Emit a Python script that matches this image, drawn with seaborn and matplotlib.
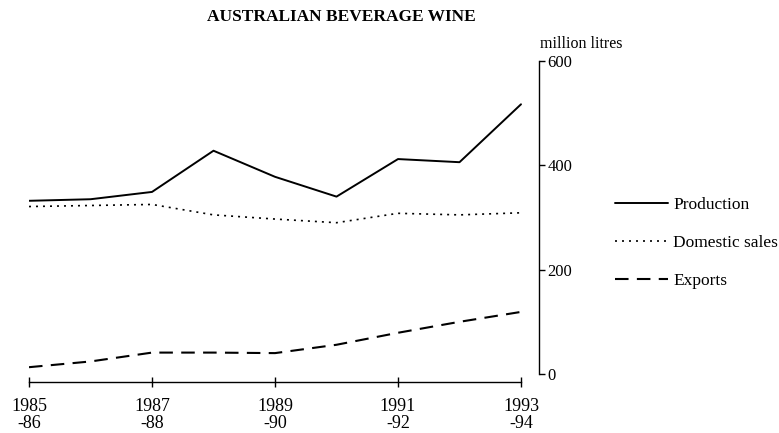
import pandas as pd
import matplotlib
matplotlib.use('Agg')
import matplotlib.pyplot as plt
import seaborn as sns

# data (million litres)
years = [1985, 1986, 1987, 1988, 1989, 1990, 1991, 1992, 1993]
production = [332, 335, 349, 428, 378, 340, 412, 406, 517]
domestic_sales = [321, 323, 325, 305, 297, 290, 308, 305, 309]
exports = [13, 24, 41, 41, 40, 56, 79, 100, 119]
tick_years = [1985, 1987, 1989, 1991, 1993]
tick_labels = ['1985\n-86', '1987\n-88', '1989\n-90', '1991\n-92', '1993\n-94']
y_ticks = [0, 200, 400, 600]

sns.set_style('white', rc={'axes.edgecolor': 'black', 'text.color': 'black',
                           'xtick.color': 'black', 'ytick.color': 'black'})
plt.rcParams['font.family'] = ['Liberation Serif', 'DejaVu Serif']

df = pd.DataFrame({'year': years, 'Production': production,
                   'Domestic sales': domestic_sales, 'Exports': exports})

fig = plt.figure(figsize=(7.79, 4.33), dpi=100)
ax = fig.add_axes([29 / 779, (433 - 381.7) / 433, 510 / 779, (381.7 - 61) / 433])

styles = {'Production': ('-', 1.4),
          'Domestic sales': ((0, (1.2, 3)), 1.2),
          'Exports': ((0, (6.5, 4)), 1.5)}
for name, (ls, lw) in styles.items():
    sns.lineplot(data=df, x='year', y=name, ax=ax, color='black',
                 linestyle=ls, linewidth=lw, label=name)

ax.set_xlim(1985, 1985 + 510 / 61.5)
ax.set_ylim(-14.8, 600)
ax.set_xlabel('')
ax.set_ylabel('')

# axes: right y axis, bottom x axis, both trimmed
ax.spines['left'].set_visible(False)
ax.spines['top'].set_visible(False)
ax.spines['right'].set_bounds(0, 600)
ax.spines['bottom'].set_bounds(1985, 1993)
for s in ['right', 'bottom']:
    ax.spines[s].set_linewidth(1.0)

ax.yaxis.tick_right()
ax.set_yticks(y_ticks)
ax.set_xticks(tick_years, tick_labels)
ax.tick_params(axis='y', right=True, direction='out', length=4, width=1,
               pad=2, labelsize=12)
ax.tick_params(axis='x', bottom=True, direction='inout', length=7, width=1,
               pad=8, labelsize=13)
for lab in ax.get_xticklabels():
    lab.set_linespacing(1.0)

ax.legend(loc='upper left', bbox_to_anchor=(615 / 779, 0.546),
          bbox_transform=fig.transFigure, frameon=False, handlelength=3.06,
          handletextpad=0.3, labelspacing=1.28, fontsize=12.5, borderpad=0,
          borderaxespad=0)

fig.text(341 / 779, (433 - 21) / 433, 'AUSTRALIAN BEVERAGE WINE', ha='center',
         va='baseline', fontsize=12.5, fontweight='bold')
fig.text(540 / 779, (433 - 48) / 433, 'million litres', ha='left',
         va='baseline', fontsize=11.5)

fig.savefig('out.png', dpi=100)
